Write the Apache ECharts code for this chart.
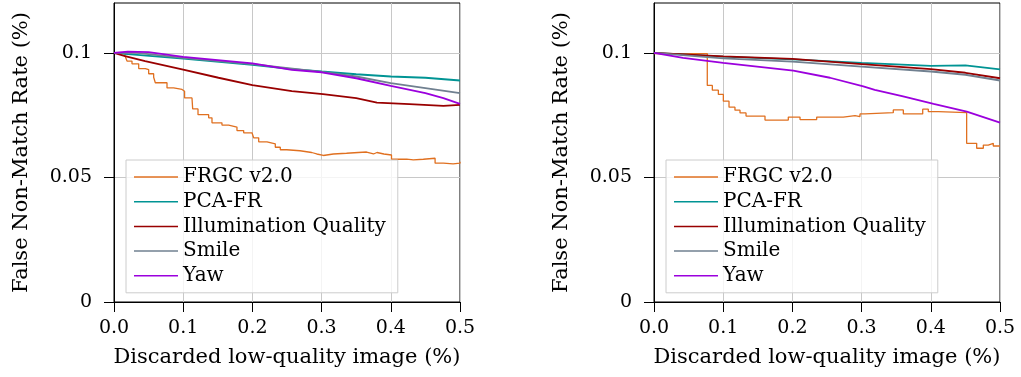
<!DOCTYPE html>
<html>
<head>
<meta charset="utf-8">
<script src="https://cdn.jsdelivr.net/npm/echarts@6/dist/echarts.min.js"></script>
<style>
html,body{margin:0;padding:0;background:#fff;}
#chart{width:1021px;height:377px;}
</style>
</head>
<body>
<div id="chart"></div>
<script>
const seriesNames = ['FRGC v2.0', 'PCA-FR', 'Illumination Quality', 'Smile', 'Yaw'];
const xTicks = [0, 0.1, 0.2, 0.3, 0.4, 0.5];
const yTicks = [0, 0.05, 0.1];
const xTitle = 'Discarded low-quality image (%)';
const yTitle = 'False Non-Match Rate (%)';

// Left panel
const leftFRGC = [[0,0.1],[0.016,0.0987],[0.0188,0.0967],[0.026,0.0956],[0.0357,0.0937],[0.0453,0.0933],[0.0501,0.0916],[0.0573,0.0902],[0.0597,0.088],[0.0766,0.0859],[0.0862,0.0853],[0.0983,0.0846],[0.102,0.0819],[0.1127,0.0813],[0.1137,0.0775],[0.1214,0.0752],[0.1368,0.0739],[0.1416,0.0719],[0.156,0.071],[0.1657,0.0702],[0.1777,0.0688],[0.1874,0.0679],[0.1994,0.0675],[0.2018,0.0659],[0.2091,0.0643],[0.2211,0.0635],[0.2331,0.0621],[0.2403,0.0611],[0.2496,0.0607],[0.2688,0.06],[0.2857,0.0594],[0.293,0.0588],[0.3025,0.0594],[0.317,0.0597],[0.336,0.06],[0.353,0.0602],[0.365,0.0594],[0.375,0.06],[0.38,0.0594],[0.39,0.059],[0.401,0.0573],[0.423,0.057],[0.4326,0.0573],[0.447,0.0577],[0.464,0.0557],[0.476,0.0554],[0.49,0.0557],[0.5,0.0563]];
const leftPCA = [[0,0.1],[0.02,0.0995],[0.1,0.0977],[0.2,0.0952],[0.257,0.0935],[0.3,0.0925],[0.35,0.0914],[0.4,0.0905],[0.45,0.09],[0.5,0.0889]];
const leftIllum = [[0,0.1],[0.016,0.0987],[0.045,0.0967],[0.1,0.0933],[0.151,0.09],[0.2,0.087],[0.257,0.0846],[0.302,0.0834],[0.35,0.0818],[0.38,0.08],[0.427,0.0794],[0.476,0.0787],[0.5,0.0791]];
const leftSmile = [[0,0.1],[0.03,0.1001],[0.1,0.098],[0.2,0.0955],[0.3,0.0924],[0.35,0.0905],[0.4,0.0878],[0.45,0.0858],[0.5,0.0838]];
const leftYaw = [[0,0.1],[0.02,0.1005],[0.05,0.1003],[0.1,0.0984],[0.2,0.0958],[0.257,0.0932],[0.3,0.0922],[0.35,0.0898],[0.4,0.0867],[0.45,0.0838],[0.476,0.0818],[0.5,0.0795]];

// Right panel
const rightFRGC = [[0,0.0997],[0.077,0.0869],[0.0843,0.085],[0.093,0.0833],[0.1002,0.0806],[0.1084,0.0782],[0.117,0.077],[0.1243,0.0759],[0.133,0.0746],[0.1604,0.073],[0.1941,0.0742],[0.211,0.0732],[0.2351,0.0742],[0.2736,0.0748],[0.2905,0.0744],[0.2977,0.0755],[0.3049,0.076],[0.3458,0.0771],[0.3603,0.0755],[0.3883,0.0774],[0.3964,0.0764],[0.411,0.076],[0.4518,0.0637],[0.4663,0.0617],[0.4759,0.063],[0.483,0.0637],[0.4903,0.0626],[0.5,0.0626]];
const rightPCA = [[0,0.1],[0.1,0.0985],[0.2,0.0974],[0.3,0.096],[0.4,0.0948],[0.45,0.095],[0.5,0.0934]];
const rightIllum = [[0,0.1],[0.1,0.0986],[0.2,0.0976],[0.3,0.0955],[0.4,0.0935],[0.45,0.092],[0.5,0.0898]];
const rightSmile = [[0,0.1],[0.1,0.0978],[0.2,0.0965],[0.3,0.0945],[0.4,0.0925],[0.45,0.0912],[0.5,0.0889]];
const rightYaw = [[0,0.1],[0.042,0.098],[0.1,0.096],[0.2013,0.0929],[0.2543,0.09],[0.3025,0.0865],[0.319,0.0851],[0.36,0.0825],[0.404,0.0795],[0.452,0.0764],[0.5,0.072]];

const colors = ['#e07020', '#009494', '#990000', '#708090', '#9b00dd'];

const FONT = 'DejaVu Serif';

function xAxisDef(gi) {
  return {
    gridIndex: gi, type: 'value', min: 0, max: 0.5, interval: 0.1,
    name: xTitle, nameLocation: 'middle', nameGap: 45,
    nameTextStyle: {fontFamily: FONT, fontSize: 21, color: '#000'},
    axisLine: {show: true, lineStyle: {color: '#000', width: 1}},
    axisTick: {show: true, length: 10, lineStyle: {color: '#000'}, customValues: xTicks},
    axisLabel: {fontFamily: FONT, fontSize: 19, color: '#000', margin: 17,
      customValues: xTicks, formatter: v => v.toFixed(1)},
    splitLine: {show: true, lineStyle: {color: '#c8c8c8', width: 1}}
  };
}
function yAxisDef(gi) {
  return {
    gridIndex: gi, type: 'value', min: 0, max: 0.12, interval: 0.05,
    name: yTitle, nameLocation: 'middle', nameGap: 82, nameRotate: 90,
    nameTextStyle: {fontFamily: FONT, fontSize: 21, color: '#000'},
    axisLine: {show: true, lineStyle: {color: '#000', width: 1}},
    axisTick: {show: true, length: 10, lineStyle: {color: '#000'}, customValues: yTicks},
    axisLabel: {fontFamily: FONT, fontSize: 19, color: '#000', margin: 22,
      customValues: yTicks,
      formatter: v => String(+(+v).toFixed(3))},
    splitLine: {show: true, lineStyle: {color: '#c8c8c8', width: 1}}
  };
}
function legendDef(left) {
  return {
    left: left, top: 160, orient: 'vertical',
    data: seriesNames,
    icon: 'rect', itemWidth: 44, itemHeight: 1.5, itemGap: 4.7,
    backgroundColor: 'rgba(255,255,255,0.8)',
    borderColor: '#cccccc', borderWidth: 1, borderRadius: 0,
    padding: [7, 12, 7, 8],
    textStyle: {fontFamily: FONT, fontSize: 20, color: '#000', lineHeight: 20},
    selectedMode: false
  };
}
function mk(name, data, gi, idx) {
  const s = {
    name: name, type: 'line', xAxisIndex: gi, yAxisIndex: gi,
    data: data, symbol: 'none', showSymbol: false,
    lineStyle: {color: colors[idx], width: idx === 0 ? 1.3 : 1.8},
    itemStyle: {color: colors[idx]},
    animation: false, z: 2 + idx
  };
  if (idx === 0) s.step = 'end';
  return s;
}

const leftData = [leftFRGC, leftPCA, leftIllum, leftSmile, leftYaw];
const rightData = [rightFRGC, rightPCA, rightIllum, rightSmile, rightYaw];

const series = [];
seriesNames.forEach((n, i) => series.push(mk(n, leftData[i], 0, i)));
seriesNames.forEach((n, i) => series.push(mk(n, rightData[i], 1, i)));

const chart = echarts.init(document.getElementById('chart'), null, {renderer: 'canvas'});
chart.setOption({
  animation: false,
  backgroundColor: '#fff',
  grid: [
    {left: 114, top: 3, width: 346, height: 299, show: true, borderColor: '#000', borderWidth: 1, backgroundColor: 'transparent'},
    {left: 654, top: 3, width: 346, height: 299, show: true, borderColor: '#000', borderWidth: 1, backgroundColor: 'transparent'}
  ],
  xAxis: [xAxisDef(0), xAxisDef(1)],
  yAxis: [yAxisDef(0), yAxisDef(1)],
  legend: [legendDef(126), legendDef(666)],
  series: series
});
</script>
</body>
</html>
